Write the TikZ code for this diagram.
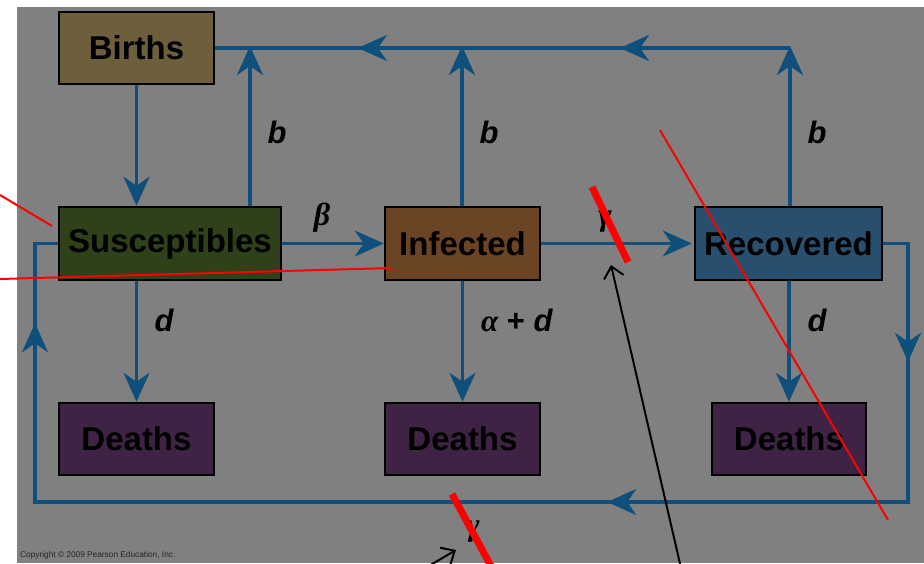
\documentclass[tikz,border=0pt]{standalone}
\usepackage{fontspec}
\setmainfont{Liberation Sans}
\newfontfamily\greekfont{Liberation Serif}
\usetikzlibrary{arrows.meta,decorations.markings}

\definecolor{panel}{HTML}{808080}
\definecolor{flowblue}{HTML}{0E4F7C}
\definecolor{birthfill}{HTML}{6E5F3C}
\definecolor{susfill}{HTML}{2F4119}
\definecolor{inffill}{HTML}{6B4423}
\definecolor{recfill}{HTML}{284F6E}
\definecolor{deathfill}{HTML}{3E2345}
\definecolor{markred}{HTML}{FF0000}

\tikzset{
  box/.style={draw=black, line width=2.5pt, inner sep=0pt,
    font=\fontsize{33}{38}\selectfont\bfseries},
  flow/.style={draw=flowblue, line width=3.5pt},
  flowtip/.style={-{Stealth[length=29pt,width=26pt,inset=9pt]}},
  rate/.style={font=\fontsize{31}{34}\selectfont\bfseries\itshape},
  greekrate/.style={font=\fontsize{32}{36}\selectfont\greekfont\bfseries\itshape},
  marks2/.style 2 args={postaction={decorate}, decoration={markings,
    mark=at position #1 with {\arrow{Stealth[length=29pt,width=26pt,inset=9pt]}},
    mark=at position #2 with {\arrow{Stealth[length=29pt,width=26pt,inset=9pt]}}}},
  marks3/.style={postaction={decorate}, decoration={markings,
    mark=at position 143pt with {\arrow{Stealth[length=29pt,width=26pt,inset=9pt]}},
    mark=at position 584pt with {\arrow{Stealth[length=29pt,width=26pt,inset=9pt]}},
    mark=at position 1335pt with {\arrow{Stealth[length=29pt,width=26pt,inset=9pt]}}}},
  thinred/.style={draw=markred, line width=2pt},
  thickred/.style={draw=markred, line width=7pt},
  pointer/.style={draw=black, line width=2pt, -{Straight Barb[length=11pt,width=20pt]}},
}

\begin{document}
\begin{tikzpicture}[x=1pt,y=-1pt]
\useasboundingbox (0,0) rectangle (924,563);
\fill[panel] (17,7) rectangle (924,563);

% compartments
\node[box, fill=birthfill, minimum width=155pt, minimum height=72pt] (births) at (136.5,48) {Births};
\node[box, fill=susfill, minimum width=222pt, minimum height=73pt] (sus) at (170,243.5) {Susceptibles};
\node[box, fill=inffill, minimum width=155pt, minimum height=73pt] (inf) at (462.5,243.5) {Infected};
\node[box, fill=recfill, minimum width=187pt, minimum height=73pt] (rec) at (788.5,243.5) {Recovered};
\node[box, fill=deathfill, minimum width=155pt, minimum height=72pt] (ds) at (136.5,439) {Deaths};
\node[box, fill=deathfill, minimum width=155pt, minimum height=72pt] (di) at (462.5,439) {Deaths};
\node[box, fill=deathfill, minimum width=154pt, minimum height=72pt] (dr) at (789,439) {Deaths};

% births feedback line along the top
\coordinate (topS) at (250,48);
\coordinate (topI) at (462,48);
\coordinate (topR) at (790,48);
\draw[flow, marks2={170pt}{432pt}] (topR) -- (births.east);
\draw[flow, flowtip] (sus.north -| topS) -- ([yshift=2pt]topS);
\draw[flow, flowtip] (inf.north -| topI) -- ([yshift=2pt]topI);
\draw[flow, flowtip] (rec.north -| topR) -- ([yshift=2pt]topR);
\draw[flow, flowtip] (births.south) -- (births.south |- sus.north);

% transitions
\draw[flow, flowtip] (sus.east) -- (inf.west);
\draw[flow, flowtip] (inf.east) -- ([xshift=-2pt]rec.west);

% deaths
\draw[flow, flowtip] (sus.south -| ds) -- (ds.north);
\draw[flow, flowtip] (inf.south) -- (di.north);
\draw[flow, flowtip] (rec.south -| dr) -- (dr.north);

% loss of immunity loop
\coordinate (loopNE) at (908,243.5);
\coordinate (loopSE) at (908,502);
\coordinate (loopSW) at (35,502);
\coordinate (loopNW) at (35,243.5);
\draw[flow, marks3] (rec.east) -- (loopNE) -- (loopSE) -- (loopSW) -- (loopNW) -- (sus.west);

% rates
\node[rate] (b1) at (277,132) {b};
\node[rate] (b2) at (489,132) {b};
\node[rate] (b3) at (817,132) {b};
\node[greekrate] (beta) at (322,218) {β};
\node[rate] (d1) at (164,320) {d};
\node[font=\fontsize{31}{34}\selectfont\bfseries] (ad) at (517,320) {{\greekfont\itshape α} + \textit{d}};
\node[rate] (d3) at (817,320) {d};
\node[greekrate] (g1) at (605,222) {γ};
\node[greekrate] (g2) at (473,532) {γ};

% annotation marks
\coordinate (r1a) at (0,195);   \coordinate (r1b) at (52,226);
\coordinate (r2a) at (0,279);   \coordinate (r2b) at (392,268);
\coordinate (r3a) at (660,130); \coordinate (r3b) at (888,520);
\draw[thinred] (r1a) -- (r1b);
\draw[thinred] (r2a) -- (r2b);
\draw[thinred] (r3a) -- (r3b);
\coordinate (k1a) at (592,187); \coordinate (k1b) at (628,262);
\coordinate (k2a) at (452,494); \coordinate (k2b) at (492,568);
\draw[thickred] (k1a) -- (k1b);
\draw[thickred] (k2a) -- (k2b);
\coordinate (p1a) at (681,568); \coordinate (p1b) at (611,265);
\coordinate (p2a) at (422,570); \coordinate (p2b) at (456,550);
\draw[pointer] (p1a) -- (p1b);
\draw[pointer] (p2a) -- (p2b);

\node[anchor=west, inner sep=0pt, text=black!85, font=\fontsize{8.3}{10}\selectfont] (copy) at (20,555) {Copyright © 2009 Pearson Education, Inc.};
\end{tikzpicture}
\end{document}
